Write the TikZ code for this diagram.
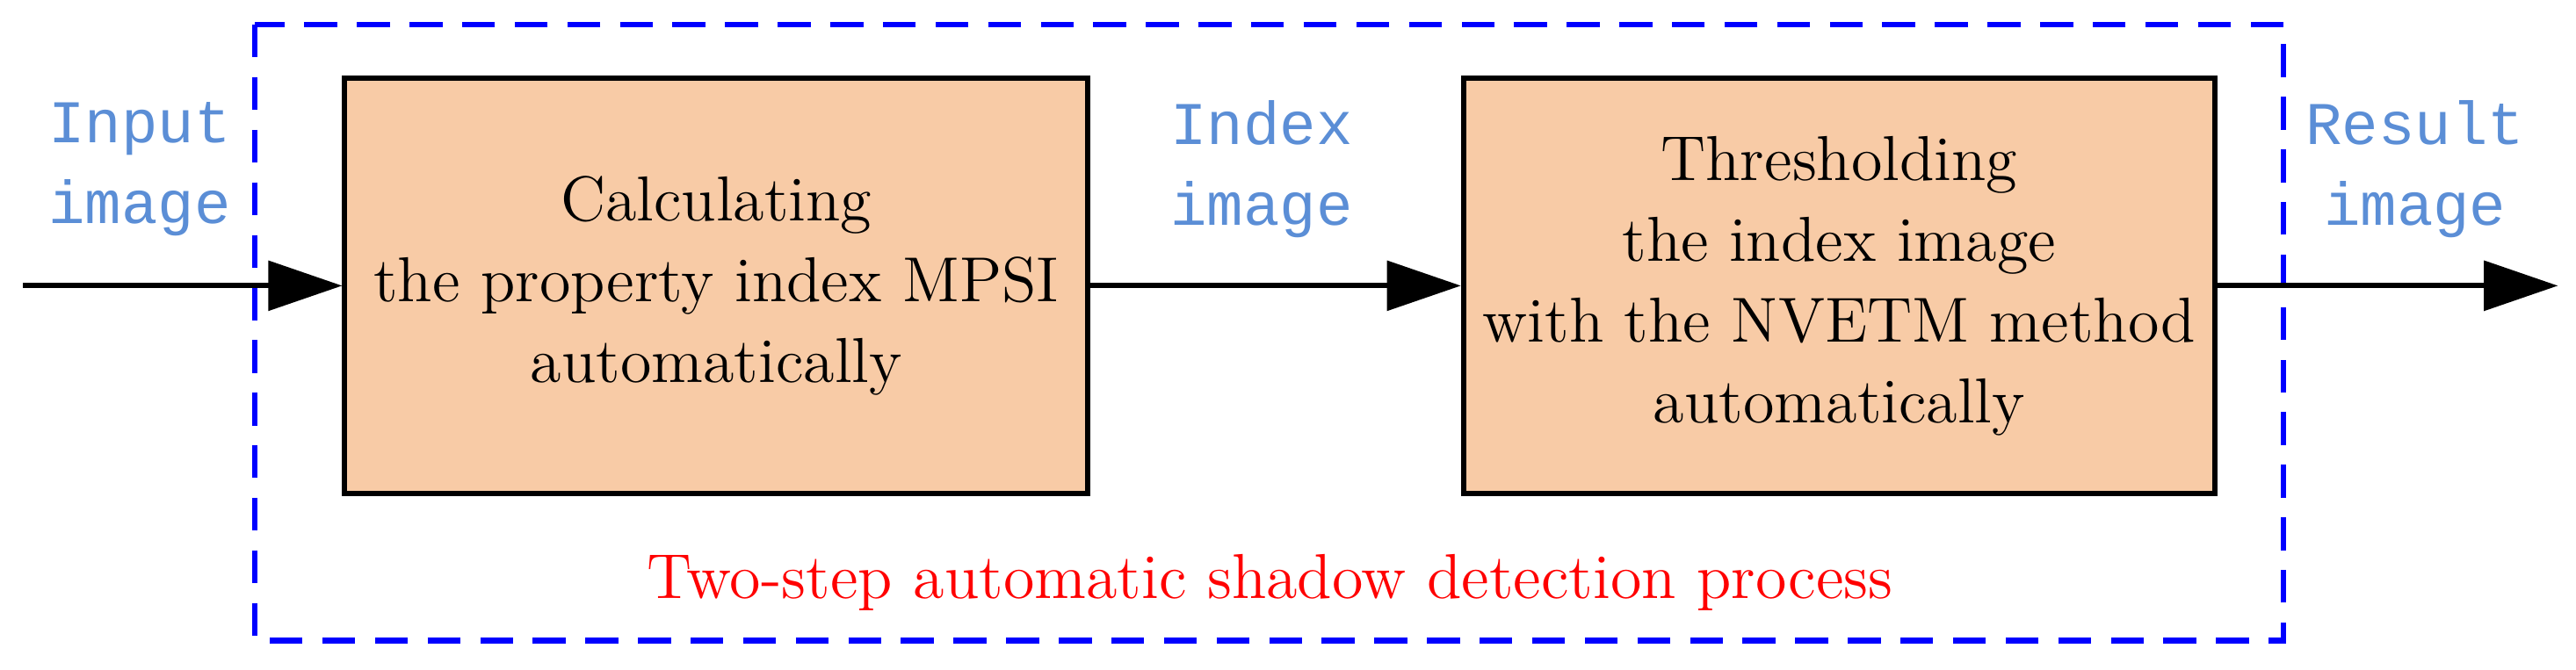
\documentclass[tikz,border=0pt]{standalone}
\usepackage{fontspec}
\newfontfamily\lblfont{Liberation Mono}
\usetikzlibrary{arrows.meta}
\definecolor{peach}{HTML}{F8CBA6}
\definecolor{lblblue}{HTML}{5B8ED6}
\begin{document}
\begin{tikzpicture}[x=0.01cm,y=-0.01cm,
  procbox/.style={draw=black,line width=0.9pt,fill=peach,minimum width=4.52cm,minimum height=2.53cm,align=center,font=\fontsize{11}{14}\selectfont},
  lbl/.style={text=lblblue,align=center,font=\lblfont\fontsize{10.5}{14}\selectfont},
  flow/.style={line width=0.9pt,-{Triangle[length=0.45cm,width=0.3cm]}}]
\useasboundingbox (0,0) rectangle (1568,408);
\draw[blue,line width=1pt,dash pattern=on 0.2cm off 0.12cm] (155,15) rectangle (1390,390);
\node[procbox] (b1) at (436,174) {Calculating\\the property index MPSI\\automatically};
\node[procbox] (b2) at (1119.5,174) {Thresholding\\the index image\\with the NVETM method\\automatically};
\coordinate (in) at (14,174);
\coordinate (out) at (1557,174);
\draw[flow] (in) -- (b1.west);
\draw[flow] (b1.east) -- (b2.west);
\draw[flow] (b2.east) -- (out);
\node[lbl] (l1) at (85,103) {Input\\image};
\node[lbl] (l2) at (768,103) {Index\\image};
\node[lbl] (l3) at (1470,103) {Result\\image};
\node[text=red,font=\fontsize{11}{14}\selectfont] (cap) at (773,355) {Two-step automatic shadow detection process};
\end{tikzpicture}
\end{document}
